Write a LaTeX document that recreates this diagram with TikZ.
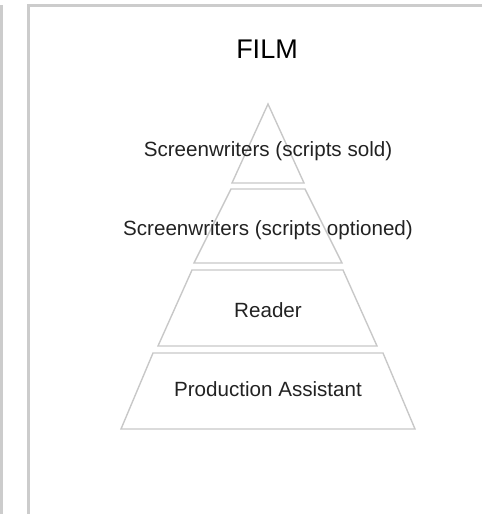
\documentclass[tikz,border=0pt]{standalone}
\usepackage{fontspec}
\setmainfont{Liberation Sans}
\definecolor{frame}{HTML}{CCCCCC}
\definecolor{tier}{HTML}{C8C8C8}
\definecolor{ink}{HTML}{222222}
\begin{document}
\begin{tikzpicture}[x=1pt,y=-1pt,
  framebar/.style={draw=frame,line width=2.6pt},
  tierline/.style={draw=tier,line width=1.4pt,line join=miter},
  tierlabel/.style={text=ink,font=\fontsize{20.6}{23}\selectfont,anchor=base,inner sep=0pt},
  titlelabel/.style={text=black,font=\fontsize{27}{30}\selectfont,anchor=base,inner sep=0pt}]
\useasboundingbox (0,0) rectangle (482,514);
% frames
\draw[framebar] (1.5,5) -- (1.5,514);
\draw[framebar] (482,5.5) -- (28.5,5.5) -- (28.5,514);
% title
\node[titlelabel] (title) at (267,58) {FILM};
% tiers
\draw[tierline] (268,104) -- (304,183) -- (232,183) -- cycle;
\draw[tierline] (231,189) -- (305,189) -- (342,263) -- (194,263) -- cycle;
\draw[tierline] (192,270) -- (343,270) -- (377,346) -- (158,346) -- cycle;
\draw[tierline] (153,353) -- (383,353) -- (415,429) -- (121,429) -- cycle;
% labels
\node[tierlabel] (sold) at (268,156) {Screenwriters (scripts sold)};
\node[tierlabel] (optioned) at (268,235) {Screenwriters (scripts optioned)};
\node[tierlabel] (reader) at (268,317) {Reader};
\node[tierlabel] (pa) at (268,396) {Production Assistant};
\end{tikzpicture}
\end{document}
